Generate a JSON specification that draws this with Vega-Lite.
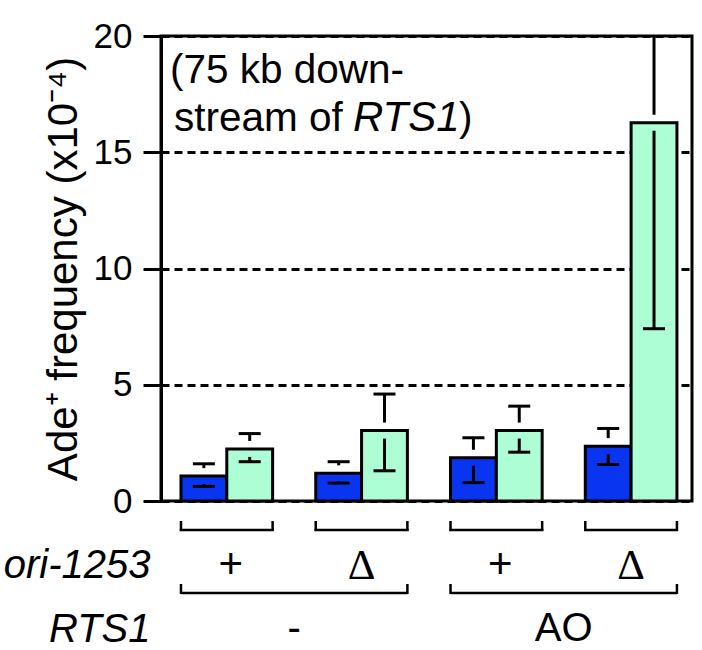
{
  "$schema": "https://vega.github.io/schema/vega-lite/v6.json",
  "padding": {"left": 3, "top": 17, "right": 0, "bottom": 0},
  "background": "white",
  "datasets": {
    "bars": [
      {"group": "g1", "series": "A", "value": 1.07, "lo": 0.63, "hi": 1.60},
      {"group": "g1", "series": "B", "value": 2.24, "lo": 1.69, "hi": 2.90},
      {"group": "g2", "series": "A", "value": 1.19, "lo": 0.77, "hi": 1.69},
      {"group": "g2", "series": "B", "value": 3.03, "lo": 1.30, "hi": 4.60},
      {"group": "g3", "series": "A", "value": 1.86, "lo": 0.79, "hi": 2.72},
      {"group": "g3", "series": "B", "value": 3.03, "lo": 2.10, "hi": 4.08},
      {"group": "g4", "series": "A", "value": 2.36, "lo": 1.57, "hi": 3.12},
      {"group": "g4", "series": "B", "value": 16.27, "lo": 7.41, "hi": 25.1}
    ],
    "ori": [
      {"group": "g1", "row": "ori-1253", "label": "+"},
      {"group": "g2", "row": "ori-1253", "label": "Δ"},
      {"group": "g3", "row": "ori-1253", "label": "+"},
      {"group": "g4", "row": "ori-1253", "label": "Δ"}
    ],
    "rts": [
      {"from": "g1", "to": "g2", "row": "RTS1", "label": "-"},
      {"from": "g3", "to": "g4", "row": "RTS1", "label": "AO"}
    ]
  },
  "vconcat": [
    {
      "width": 531,
      "height": 465,
      "view": {"stroke": "black", "strokeWidth": 3},
      "data": {"name": "bars"},
      "encoding": {
        "x": {
          "field": "group", "type": "nominal",
          "scale": {"domain": ["g1", "g2", "g3", "g4"], "paddingInner": 0.32, "paddingOuter": 0.13, "align": 0.57},
          "axis": null
        },
        "xOffset": {
          "field": "series", "type": "nominal",
          "scale": {"domain": ["A", "B"], "paddingInner": 0, "paddingOuter": 0}
        }
      },
      "layer": [
        {
          "mark": {"type": "bar", "stroke": "black", "strokeWidth": 3},
          "encoding": {
            "y": {
              "field": "value", "type": "quantitative",
              "scale": {"domain": [0, 20], "nice": false},
              "axis": {
                "title": "Ade⁺ frequency (x10⁻⁴)",
                "values": [0, 5, 10, 15, 20],
                "grid": true, "gridDash": [8, 5], "gridColor": "black", "gridWidth": 3, "gridOpacity": 1,
                "domainColor": "black", "domainWidth": 3,
                "tickColor": "black", "tickWidth": 3, "tickSize": 18,
                "labelFont": "Liberation Sans", "labelFontSize": 35, "labelColor": "black", "labelPadding": 11,
                "titleFont": "Liberation Sans", "titleFontSize": 42, "titleFontWeight": "normal", "titleColor": "black", "titlePadding": 8
              }
            },
            "color": {
              "field": "series", "type": "nominal",
              "scale": {"domain": ["A", "B"], "range": ["#0A35F0", "#ADFDD5"]},
              "legend": null
            }
          }
        },
        {
          "mark": {"type": "rule", "color": "black", "strokeWidth": 3, "y2Offset": -8, "clip": true},
          "encoding": {
            "y": {"field": "hi", "type": "quantitative"},
            "y2": {"field": "value"}
          }
        },
        {
          "mark": {"type": "rule", "color": "black", "strokeWidth": 3, "y2Offset": 8, "clip": true},
          "encoding": {
            "y": {"field": "lo", "type": "quantitative"},
            "y2": {"field": "value"}
          }
        },
        {
          "mark": {"type": "tick", "orient": "horizontal", "color": "black", "size": 22, "thickness": 3, "opacity": 1, "clip": true},
          "encoding": {"y": {"field": "hi", "type": "quantitative"}}
        },
        {
          "mark": {"type": "tick", "orient": "horizontal", "color": "black", "size": 22, "thickness": 3, "opacity": 1, "clip": true},
          "encoding": {"y": {"field": "lo", "type": "quantitative"}}
        },
        {
          "data": {"values": [{"t": "(75 kb down-"}]},
          "mark": {"type": "text", "font": "Liberation Sans", "fontSize": 40.5, "color": "black", "align": "left", "baseline": "alphabetic", "dx": -11},
          "encoding": {
            "x": {"datum": "g1", "bandPosition": 0},
            "xOffset": null,
            "y": {"datum": 17.98},
            "text": {"field": "t"}
          }
        },
        {
          "data": {"values": [{"t": "stream of"}]},
          "mark": {"type": "text", "font": "Liberation Sans", "fontSize": 40.5, "color": "black", "align": "left", "baseline": "alphabetic", "dx": -7},
          "encoding": {
            "x": {"datum": "g1", "bandPosition": 0},
            "xOffset": null,
            "y": {"datum": 15.91},
            "text": {"field": "t"}
          }
        },
        {
          "data": {"values": [{"t": "RTS1"}]},
          "mark": {"type": "text", "font": "Liberation Sans", "fontSize": 42, "fontStyle": "italic", "color": "black", "align": "left", "baseline": "alphabetic", "dx": 172},
          "encoding": {
            "x": {"datum": "g1", "bandPosition": 0},
            "xOffset": null,
            "y": {"datum": 15.91},
            "text": {"field": "t"}
          }
        },
        {
          "data": {"values": [{"t": ")"}]},
          "mark": {"type": "text", "font": "Liberation Sans", "fontSize": 40.5, "color": "black", "align": "left", "baseline": "alphabetic", "dx": 278},
          "encoding": {
            "x": {"datum": "g1", "bandPosition": 0},
            "xOffset": null,
            "y": {"datum": 15.91},
            "text": {"field": "t"}
          }
        }
      ]
    },
    {
      "width": 531,
      "height": 130,
      "view": {"stroke": null},
      "encoding": {
        "y": {
          "field": "row", "type": "nominal",
          "scale": {"type": "point", "domain": ["ori-1253", "RTS1"], "range": [38, 102], "padding": 0},
          "axis": {
            "title": null, "domain": false, "ticks": false, "grid": false,
            "labelFont": "Liberation Sans", "labelFontSize": 40, "labelFontStyle": "italic",
            "labelColor": "black", "labelPadding": 11
          }
        }
      },
      "layer": [
        {
          "data": {"name": "ori"},
          "transform": [{"filter": "datum.label == '+'"}],
          "mark": {"type": "text", "font": "Liberation Sans", "fontSize": 42, "color": "black", "baseline": "middle", "dx": 4},
          "encoding": {
            "x": {"field": "group", "type": "nominal", "scale": {"domain": ["g1", "g2", "g3", "g4"], "paddingInner": 0.32, "paddingOuter": 0.13, "align": 0.57}, "axis": null},
            "text": {"field": "label"}
          }
        },
        {
          "data": {"name": "ori"},
          "transform": [{"filter": "datum.label != '+'"}],
          "mark": {"type": "text", "font": "Liberation Serif", "fontSize": 43, "color": "black", "baseline": "middle", "dy": 1},
          "encoding": {
            "x": {"field": "group", "type": "nominal"},
            "text": {"field": "label"}
          }
        },
        {
          "data": {"name": "ori"},
          "mark": {"type": "tick", "orient": "horizontal", "color": "black", "size": 94, "thickness": 2.5, "opacity": 1, "yOffset": -35},
          "encoding": {"x": {"field": "group", "type": "nominal"}}
        },
        {
          "data": {"name": "ori"},
          "mark": {"type": "tick", "orient": "vertical", "color": "black", "size": 10, "thickness": 2.5, "opacity": 1, "yOffset": -39},
          "encoding": {"x": {"field": "group", "type": "nominal", "bandPosition": 0}}
        },
        {
          "data": {"name": "ori"},
          "mark": {"type": "tick", "orient": "vertical", "color": "black", "size": 10, "thickness": 2.5, "opacity": 1, "yOffset": -39},
          "encoding": {"x": {"field": "group", "type": "nominal", "bandPosition": 1}}
        },
        {
          "data": {"name": "rts"},
          "mark": {"type": "rule", "color": "black", "strokeWidth": 2.5, "yOffset": -36},
          "encoding": {
            "x": {"field": "from", "type": "nominal", "bandPosition": 0},
            "x2": {"field": "to", "bandPosition": 1}
          }
        },
        {
          "data": {"name": "rts"},
          "mark": {"type": "tick", "orient": "vertical", "color": "black", "size": 10, "thickness": 2.5, "opacity": 1, "yOffset": -40},
          "encoding": {"x": {"field": "from", "type": "nominal", "bandPosition": 0}}
        },
        {
          "data": {"name": "rts"},
          "mark": {"type": "tick", "orient": "vertical", "color": "black", "size": 10, "thickness": 2.5, "opacity": 1, "yOffset": -40},
          "encoding": {"x": {"field": "to", "type": "nominal", "bandPosition": 1}}
        },
        {
          "data": {"name": "rts"},
          "mark": {"type": "text", "font": "Liberation Sans", "fontSize": 40, "color": "black", "baseline": "middle"},
          "encoding": {
            "x": {"field": "from", "type": "nominal", "bandPosition": 1.235},
            "text": {"field": "label"}
          }
        }
      ]
    }
  ],
  "spacing": 0,
  "resolve": {"scale": {"x": "independent", "y": "independent"}},
  "config": {"font": "Liberation Sans"}
}
